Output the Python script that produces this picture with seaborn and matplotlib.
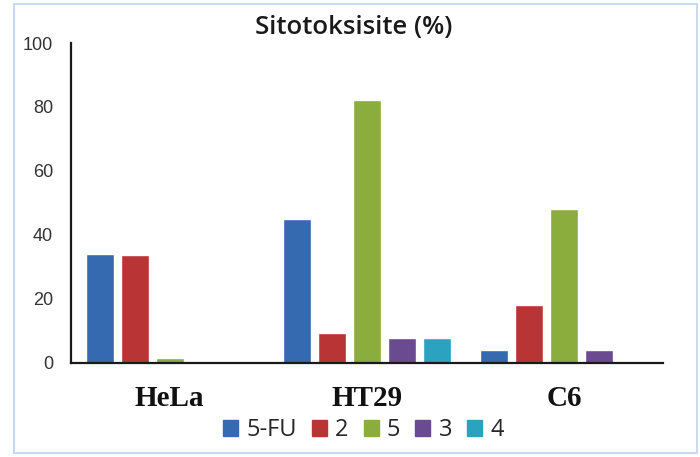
import pandas as pd
import matplotlib.pyplot as plt
import seaborn as sns
from matplotlib.patches import Rectangle

# values
cells = ["HeLa", "HT29", "C6"]
compounds = ["5-FU", "2", "5", "3", "4"]
fu5 = [34.0, 44.9, 3.9]
c2 = [33.6, 9.2, 18.0]
c5 = [1.4, 82.2, 48.0]
c3 = [None, 7.7, 3.9]
c4 = [None, 7.7, None]
colors = ["#3569b0", "#b93535", "#8aad3d", "#6a4a91", "#2ca2c1"]

rows = []
for name, vals in zip(compounds, [fu5, c2, c5, c3, c4]):
    for cell, v in zip(cells, vals):
        if v is not None:
            rows.append({"cell": cell, "compound": name, "value": v})
df = pd.DataFrame(rows)

sns.set_style("white")
plt.rcParams["font.family"] = ["Open Sans", "DejaVu Sans"]

fig = plt.figure(figsize=(7, 4.57), dpi=100)
ax = fig.add_axes([71 / 700, 1 - 362.5 / 457, 592 / 700, 319.5 / 457])

sns.barplot(data=df, x="cell", y="value", hue="compound", order=cells,
            hue_order=compounds, palette=colors, width=0.888, gap=0.2,
            errorbar=None, saturation=1, legend=False, ax=ax)

ax.set_ylim(0, 100)
ax.set_yticks(range(0, 101, 20))
ax.set_xlabel("")
ax.set_ylabel("")
sns.despine(ax=ax)
for s in ["left", "bottom"]:
    ax.spines[s].set_color("#1a1a1a")
    ax.spines[s].set_linewidth(1.6)
ax.tick_params(axis="y", length=0, pad=13, labelsize=13, labelcolor="#333333")
ax.tick_params(axis="x", length=0, pad=16)
for lab in ax.get_yticklabels():
    lab.set_family(["Liberation Sans", "DejaVu Sans"])
for lab in ax.get_xticklabels():
    lab.set_family(["Liberation Serif", "DejaVu Serif"])
    lab.set_fontweight("bold")
    lab.set_fontsize(21)
    lab.set_color("#111111")

handles = [Rectangle((0, 0), 1, 1, color=c) for c in colors]
fig.legend(handles, compounds, loc="center", bbox_to_anchor=(363.5 / 700, 1 - 430 / 457),
           ncol=5, frameon=False, fontsize=17, handlelength=0.64, handleheight=0.64,
           handletextpad=0.34, columnspacing=0.64, borderpad=0, borderaxespad=0)

fig.text(354 / 700, 1 - 28 / 457, "Sitotoksisite (%)", ha="center", va="center",
         fontsize=18.5, fontweight="semibold", color="#1a1a1a")

fig.patches.append(Rectangle((14 / 700, 1 - 453 / 457), 683 / 700, 449 / 457,
                             transform=fig.transFigure, fill=False,
                             edgecolor="#c9daf0", linewidth=1.5))

fig.savefig("out.png", dpi=100)
